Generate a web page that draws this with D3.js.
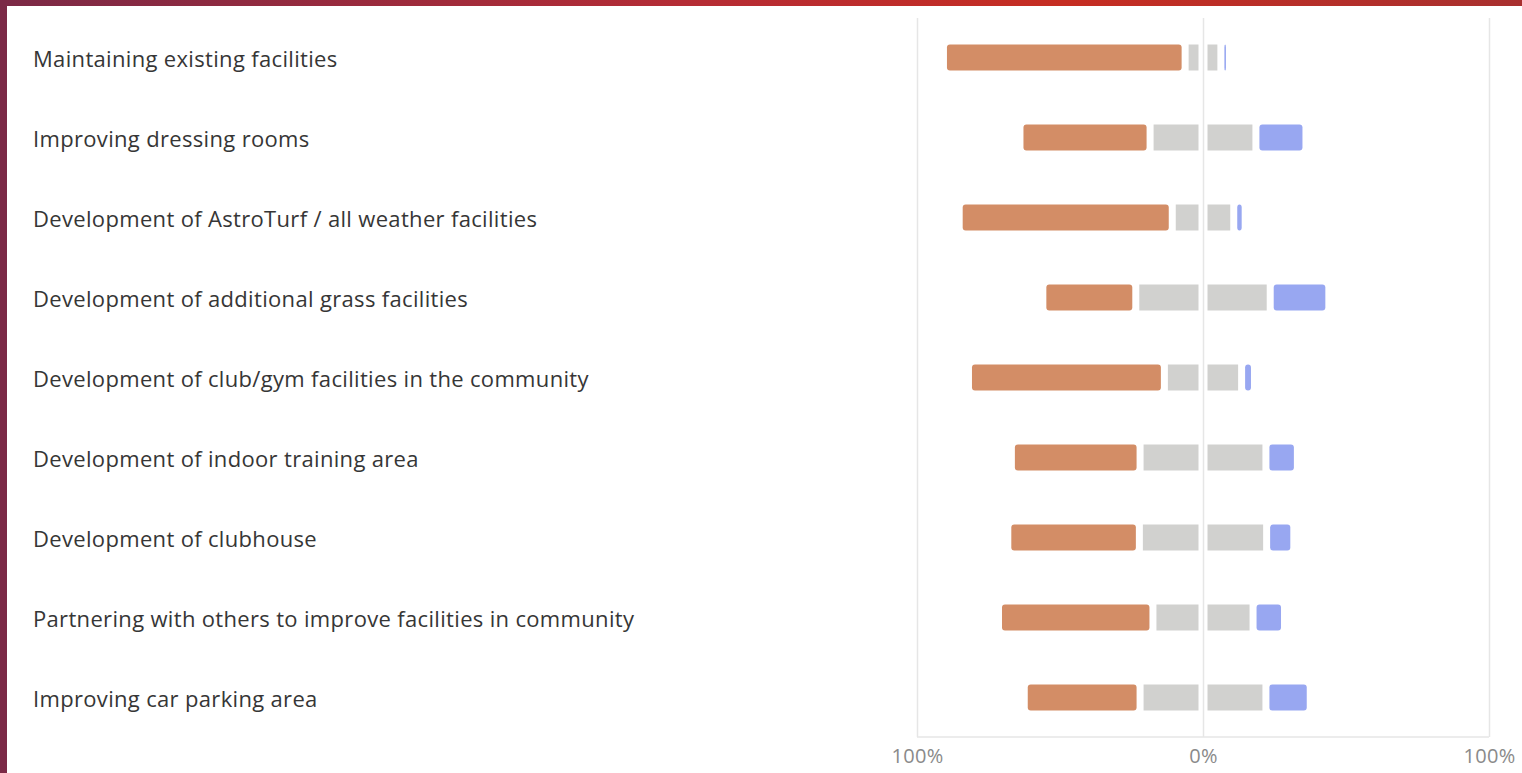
<!DOCTYPE html>
<html lang="en">
<head>
  <meta charset="UTF-8">
  <title>Facility priorities</title>
  <script src="https://d3js.org/d3.v7.min.js"></script>
  <style>
    html, body { margin: 0; padding: 0; background: #fff; }
    svg { display: block; }
  </style>
</head>
<body>
<div id="chart"></div>
<script>

// survey items, top to bottom
const items = [
  "Maintaining existing facilities",
  "Improving dressing rooms",
  "Development of AstroTurf / all weather facilities",
  "Development of additional grass facilities",
  "Development of club/gym facilities in the community",
  "Development of indoor training area",
  "Development of clubhouse",
  "Partnering with others to improve facilities in community",
  "Improving car parking area"
];

// percent of answers
const negative = [84.5, 45.5, 74.5, 32.5, 68.5, 45, 46, 54, 40.5];
const neutral  = [12.5, 37, 21.5, 47, 27, 44, 44.5, 35, 44];
const positive = [3, 17.5, 4, 20.5, 4.5, 11, 9.5, 11, 15.5];

const tickValues = [-100, 0, 100];
const tickLabels = ["100%", "0%", "100%"];

const width = 1522, height = 773;
const colors = { neg: "#d38d66", mid: "#d1d1cf", pos: "#98a7f1" };

const svg = d3.select("#chart").append("svg")
  .attr("width", width)
  .attr("height", height);

// frame: maroon left edge, red gradient top edge
const grad = svg.append("defs").append("linearGradient")
  .attr("id", "topbar").attr("x1", "0%").attr("x2", "100%");
grad.append("stop").attr("offset", "0%").attr("stop-color", "#7b2946");
grad.append("stop").attr("offset", "45%").attr("stop-color", "#b52c35");
grad.append("stop").attr("offset", "70%").attr("stop-color", "#c62d22");
grad.append("stop").attr("offset", "100%").attr("stop-color", "#a8302f");
svg.append("rect").attr("x", 0).attr("y", 0).attr("width", width).attr("height", 6).attr("fill", "url(#topbar)");
svg.append("rect").attr("x", 0).attr("y", 0).attr("width", 7).attr("height", height).attr("fill", "#7b2946");

const x = d3.scaleLinear().domain([-100, 100]).range([917, 1489]);
const y = d3.scaleBand().domain(items).range([17.5, 737.5])
  .paddingInner(0.675).paddingOuter(0.3375);

// grid
svg.append("g")
  .selectAll("line")
  .data(tickValues)
  .join("line")
  .attr("x1", d => Math.round(x(d)) + 0.5)
  .attr("x2", d => Math.round(x(d)) + 0.5)
  .attr("y1", 18)
  .attr("y2", 737)
  .attr("stroke", "#e6e6e6")
  .attr("stroke-width", 1.5);
svg.append("line")
  .attr("x1", x(-100)).attr("x2", x(100))
  .attr("y1", 737).attr("y2", 737)
  .attr("stroke", "#e6e6e6").attr("stroke-width", 1.5);

// segments per row: [start, end, colour, inset left, inset right, radius]
const rows = items.map((name, i) => {
  const h = neutral[i] / 2;
  return { name, segs: [
    { a: -h - negative[i], b: -h, c: colors.neg, il: 3.5, ir: 3.5, r: 3 },
    { a: -h, b: 0, c: colors.mid, il: 3.5, ir: 4.5, r: 0 },
    { a: 0, b: h, c: colors.mid, il: 4.5, ir: 3.5, r: 0 },
    { a: h, b: h + positive[i], c: colors.pos, il: 3.5, ir: 3.5, r: 3 }
  ]};
});

const rowG = svg.append("g")
  .selectAll("g")
  .data(rows)
  .join("g")
  .attr("transform", d => `translate(0,${y(d.name)})`);

rowG.selectAll("rect")
  .data(d => d.segs)
  .join("rect")
  .attr("x", s => x(s.a) + s.il)
  .attr("width", s => Math.max(1.5, x(s.b) - x(s.a) - s.il - s.ir))
  .attr("height", y.bandwidth())
  .attr("rx", s => s.r)
  .attr("fill", s => s.c);

// item labels
svg.append("g")
  .selectAll("text")
  .data(items)
  .join("text")
  .attr("x", 33)
  .attr("y", d => y(d) + y.bandwidth() / 2)
  .attr("dominant-baseline", "central")
  .attr("font-family", "'Open Sans', sans-serif")
  .attr("font-size", 22)
  .attr("letter-spacing", 0.33)
  .attr("fill", "#363636")
  .text(d => d);

// bottom axis labels
const axis = d3.axisBottom(x)
  .tickValues(tickValues)
  .tickFormat((d, i) => tickLabels[i])
  .tickSize(0)
  .tickPadding(12);
const ax = svg.append("g").attr("transform", "translate(0,737)").call(axis);
ax.select(".domain").remove();
ax.selectAll("text")
  .attr("font-family", "'Open Sans', sans-serif")
  .attr("font-size", 20)
  .attr("letter-spacing", 0.3)
  .attr("fill", "#8a8a8a");

</script>
</body>
</html>
